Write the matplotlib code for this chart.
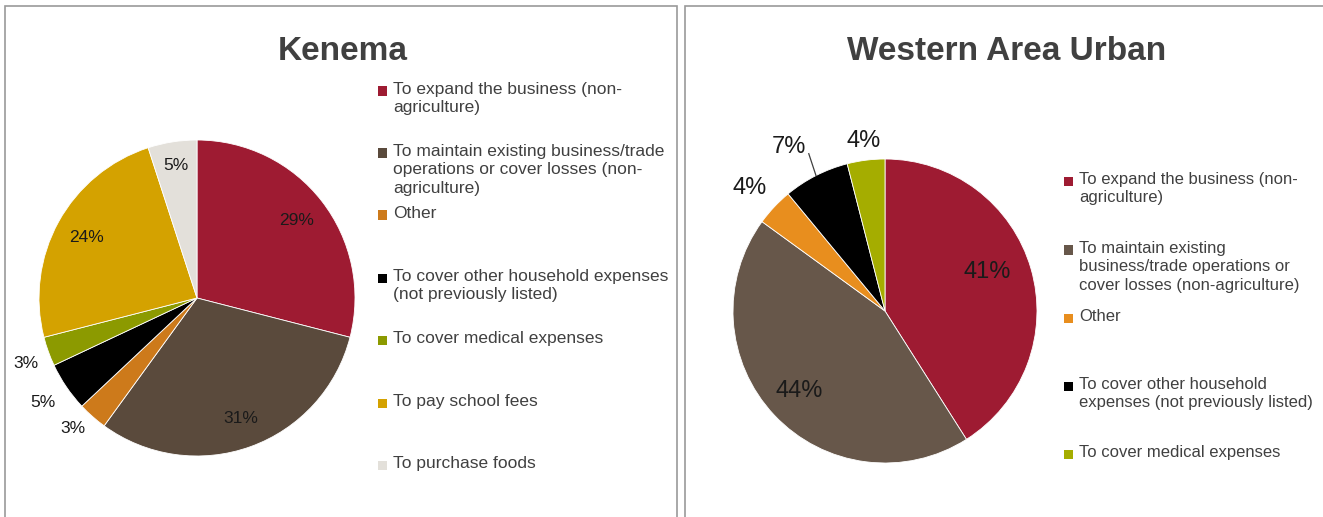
import numpy as np
import matplotlib
matplotlib.use("Agg")
import matplotlib.pyplot as plt
from matplotlib.patches import Rectangle

plt.rcParams["font.family"] = ["Liberation Sans", "DejaVu Sans"]

# ---- data ----
kenema_labels = [
    "To expand the business (non-\nagriculture)",
    "To maintain existing business/trade\noperations or cover losses (non-\nagriculture)",
    "Other",
    "To cover other household expenses\n(not previously listed)",
    "To cover medical expenses",
    "To pay school fees",
    "To purchase foods",
]
kenema_values = [29, 31, 3, 5, 3, 24, 5]

wau_labels = [
    "To expand the business (non-\nagriculture)",
    "To maintain existing\nbusiness/trade operations or\ncover losses (non-agriculture)",
    "Other",
    "To cover other household\nexpenses (not previously listed)",
    "To cover medical expenses",
]
wau_values = [41, 44, 4, 7, 4]

# ---- style ----
kenema_colors = ["#9E1B32", "#5A4A3C", "#CD7A1B", "#000000", "#8C9A00", "#D4A200", "#E3E0DA"]
wau_colors = ["#9E1B32", "#67574A", "#E88E1E", "#000000", "#A5AD00"]
TEXT = "#404040"

W, H = 1323, 517
fig = plt.figure(figsize=(W / 100, H / 100), dpi=100)
fig.patch.set_facecolor("white")


def px_axes(cx, cy, r, pad=1.45):
    ax = fig.add_axes([(cx - r * pad) / W, (H - cy - r * pad) / H,
                       2 * r * pad / W, 2 * r * pad / H])
    return ax, pad


def draw_pie(ax, pad, values, colors, dists, shifts, fsize):
    wedges, _ = ax.pie(values, colors=colors, startangle=90, counterclock=False,
                       radius=1, wedgeprops=dict(edgecolor="white", linewidth=0.6))
    # pie() resets the limits, so set them afterwards
    ax.set_xlim(-pad, pad)
    ax.set_ylim(-pad, pad)
    ax.axis("off")
    for w, v, d, s in zip(wedges, values, dists, shifts):
        mid = np.deg2rad((w.theta1 + w.theta2) / 2 + s)
        ax.text(d * np.cos(mid), d * np.sin(mid), f"{v}%", ha="center", va="center",
                fontsize=fsize, color="#1a1a1a", clip_on=False)
    return wedges


def draw_legend(x, ys, labels, colors, fsize):
    for y, lab, c in zip(ys, labels, colors):
        fig.patches.append(Rectangle((x / W, (H - y - 4.5) / H), 9 / W, 9 / H,
                                     transform=fig.transFigure, facecolor=c, edgecolor="none"))
        fig.text((x + 15) / W, (H - y + 9) / H, lab, ha="left", va="top",
                 fontsize=fsize, color=TEXT, linespacing=1.28)


# panel borders
for x0, x1 in [(5, 677), (685, 1330)]:
    fig.patches.append(Rectangle((x0 / W, -0.05), (x1 - x0) / W, (H - 6) / H + 0.05,
                                 transform=fig.transFigure, facecolor="none",
                                 edgecolor="#9a9a9a", linewidth=1.2))

# Kenema
ax1, p1 = px_axes(197, 298, 158)
draw_pie(ax1, p1, kenema_values, kenema_colors,
         [0.80, 0.81, 1.14, 1.18, 1.16, 0.80, 0.85], [0, 0, -2, 0, 1, 0, 0], 12.5)
fig.text(343 / W, (H - 51) / H, "Kenema", ha="center", va="center",
         fontsize=24, fontweight="bold", color=TEXT)
draw_legend(378, [91, 153, 215, 278, 340, 403, 465], kenema_labels, kenema_colors, 12.5)

# Western Area Urban
ax2, p2 = px_axes(885, 311, 152)
wedges = draw_pie(ax2, p2, wau_values, wau_colors,
                  [0.72, 0.77, 1.20, 1.25, 1.13], [4.7, 0, 1, 3.5, 0], 17)
a = np.deg2rad((wedges[3].theta1 + wedges[3].theta2) / 2)
ax2.plot([np.cos(a), 1.15 * np.cos(a - 0.02)],
         [np.sin(a), 1.15 * np.sin(a - 0.02)], color="#404040", lw=0.9, clip_on=False)
fig.text(1007 / W, (H - 51) / H, "Western Area Urban", ha="center", va="center",
         fontsize=24, fontweight="bold", color=TEXT)
draw_legend(1064, [181, 250, 318, 386, 454], wau_labels, wau_colors, 12)

fig.savefig("out.png", dpi=100)
